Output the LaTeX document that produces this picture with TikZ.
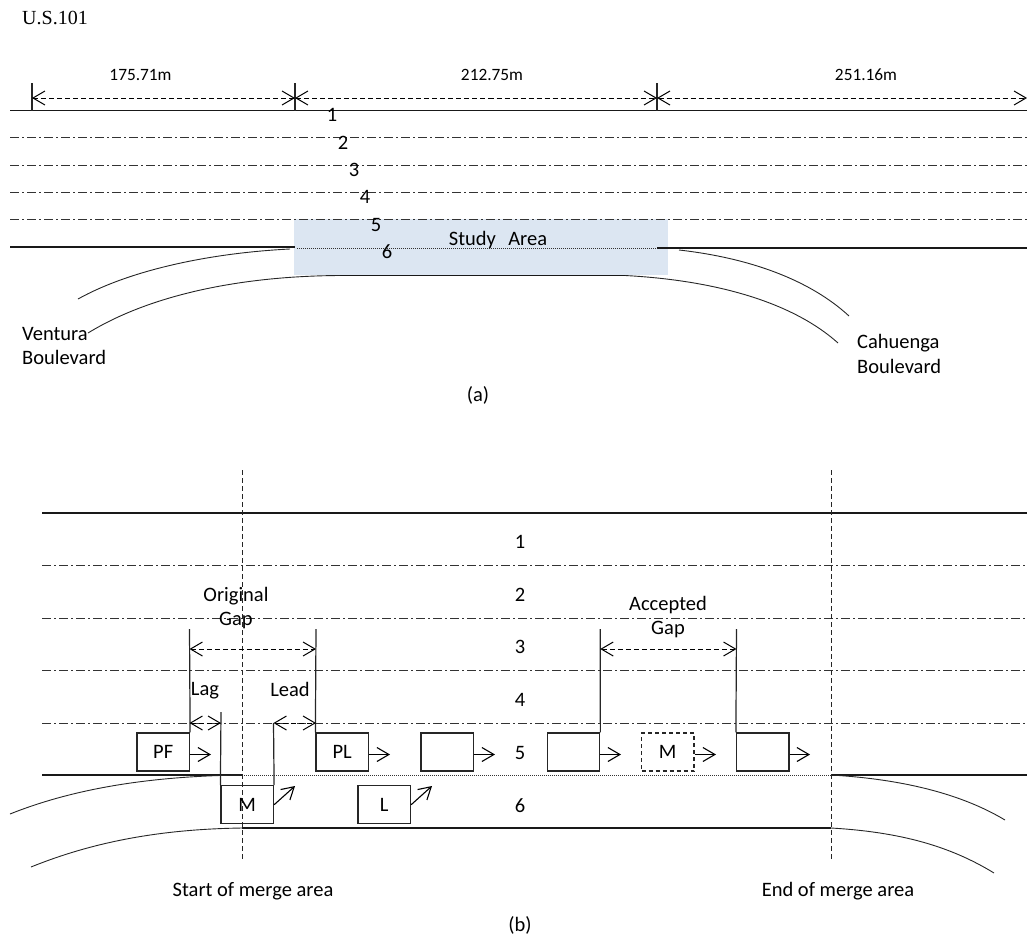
\documentclass[tikz,border=0pt]{standalone}
\usepackage{fontspec}
\setmainfont{Carlito}
\newfontfamily\roadfont{Liberation Serif}
\usetikzlibrary{arrows.meta, positioning}
\definecolor{studyblue}{HTML}{DCE6F2}

\begin{document}
\begin{tikzpicture}[
    x=1pt, y=-1pt,
    every node/.style={font=\fontsize{20.5}{24.5}\selectfont, inner sep=0pt},
    dimlabel/.style={font=\fontsize{17.3}{21}\selectfont},
    road/.style={line width=1.1pt, black!90},
    curb/.style={line width=0.9pt, black!85},
    lane/.style={line width=1pt, black!80, dash pattern=on 9pt off 3pt on 2pt off 3pt},
    merge/.style={line width=1pt, black!80, densely dotted},
    limit/.style={line width=1pt, black!85, dash pattern=on 5pt off 3pt},
    tick/.style={line width=1.2pt, black!85},
    vehicle/.style={rectangle, draw, line width=1.2pt, black!85, text=black, minimum width=52.5pt, minimum height=38pt},
    ghost/.style={vehicle, dash pattern=on 4pt off 3pt},
    move/.style={line width=1.1pt, -{Straight Barb[length=12pt, width=14pt]}},
    gap/.style={line width=1pt, dash pattern=on 5pt off 3pt, {Straight Barb[length=12pt, width=14pt]}-{Straight Barb[length=12pt, width=14pt]}}
]
\useasboundingbox (0,0) rectangle (1027,940);

% part (a)
\fill [studyblue] (294,219) rectangle (668,275);

\node (us) [font=\roadfont\fontsize{20}{24}\selectfont, anchor=west] at (22,18) {U.S.101};

\coordinate (aL) at (10,110.5);
\coordinate (aR) at (1027,110.5);
\draw [road] (aL) -- (aR);
\draw [lane] (10,137.5) -- (1027,137.5);
\draw [lane] (10,165) -- (1027,165);
\draw [lane] (10,192) -- (1027,192);
\draw [lane] (10,219.5) -- (1027,219.5);

\draw [road] (10,247) -- (295,247);
\draw [merge] (297,248) -- (775,248);
\draw [road] (657,248) -- (1027,248);
\draw [road] (330,275.5) -- (625,275.5);

\draw [curb] (78,299) .. controls (130,270) and (210,253) .. (290,249);
\draw [curb] (88,333) .. controls (150,295) and (240,276) .. (340,275.5);
\draw [curb] (679,250) .. controls (750,258) and (810,280) .. (849,316);
\draw [curb] (625,275.5) .. controls (710,280) and (790,300) .. (838,343);

\coordinate (t1) at (32,98);
\coordinate (t2) at (295,98);
\coordinate (t3) at (657,98);
\coordinate (t4) at (1027,98);
\draw [tick] (32,83) -- (32,110.5);
\draw [tick] (295,83) -- (295,110.5);
\draw [tick] (657,83) -- (657,110.5);
\draw [gap] (t1) -- node[dimlabel, above=17pt, xshift=-23pt] {175.71m} (t2);
\draw [gap] (t2) -- node[dimlabel, above=17pt, xshift=16pt] {212.75m} (t3);
\draw [gap] (t3) -- node[dimlabel, above=17pt, xshift=24pt] {251.16m} (t4);

\node (a1) at (332,115) {1};
\node (a2) at (343,142.5) {2};
\node (a3) at (354,170) {3};
\node (a4) at (365,197) {4};
\node (a5) at (376,225) {5};
\node (a6) at (387,252) {6};
\node (study) at (498,240) {Study\hspace{0.6em}Area};

\node (ventura) [align=left, anchor=west] at (22,346) {Ventura\\Boulevard};
\node (cahuenga) [align=left, anchor=west] at (857,354) {Cahuenga\\Boulevard};
\node (capa) at (478,395) {(a)};

% part (b)
\draw [road] (42,513) -- (1027,513);
\draw [lane] (42,565.5) -- (1027,565.5);
\draw [lane] (42,618) -- (1027,618);
\draw [lane] (42,670.5) -- (1027,670.5);
\draw [lane] (42,723) -- (1027,723);

\draw [road] (42,775) -- (242,775);
\draw [merge] (242,775.5) -- (831,775.5);
\draw [road] (831,775) -- (1027,775);
\draw [road] (242,828) -- (831,828);

\draw [curb] (10,814) .. controls (80,786) and (160,776) .. (242,775);
\draw [curb] (31,867) .. controls (100,839) and (170,829) .. (242,828);
\draw [curb] (831,775) .. controls (900,779) and (960,793) .. (1005,820);
\draw [curb] (831,828) .. controls (900,832) and (950,846) .. (994,873);

\draw [limit] (242,470) -- (242,859);
\draw [limit] (831,470) -- (831,859);

\node (b1) at (520,542) {1};
\node (b2) at (520,595) {2};
\node (b3) at (520,647) {3};
\node (b4) at (520,700) {4};
\node (b5) at (520,753) {5};
\node (b6) at (520,806) {6};

\node (pf) [vehicle] at (163.25,752) {PF};
\node (pl) [vehicle] at (342.25,752) {PL};
\node (car1) [vehicle] at (447.25,752) {};
\node (car2) [vehicle] at (573.5,752) {};
\node (mnew) [ghost] at (667.75,752) {M};
\node (car3) [vehicle] at (762.75,752) {};
\node (m) [vehicle] at (247.25,804.75) {M};
\node (l) [vehicle] at (384.25,804.75) {L};

\coordinate (pfgo) at (211,754.5);
\coordinate (plgo) at (390,754.5);
\coordinate (car1go) at (495,754.5);
\coordinate (car2go) at (621,754.5);
\coordinate (mnewgo) at (716,754.5);
\coordinate (car3go) at (810,754.5);
\coordinate (mgo) at (295,786);
\coordinate (lgo) at (432,786);
\draw [move] (pf.east |- pfgo) -- (pfgo);
\draw [move] (pl.east |- plgo) -- (plgo);
\draw [move] (car1.east |- car1go) -- (car1go);
\draw [move] (car2.east |- car2go) -- (car2go);
\draw [move] (mnew.east |- mnewgo) -- (mnewgo);
\draw [move] (car3.east |- car3go) -- (car3go);
\draw [move] (m.east) -- (mgo);
\draw [move] (l.east) -- (lgo);

\coordinate (pftop) at (189.5,629);
\coordinate (pltop) at (316,629);
\coordinate (car2top) at (600.25,629);
\coordinate (car3top) at (736.5,629);
\coordinate (mltop) at (221,712);
\coordinate (mrtop) at (273.5,723);
\draw [tick] (pftop) -- (pf.north east);
\draw [tick] (pltop) -- (pl.north west);
\draw [tick] (car2top) -- (car2.north east);
\draw [tick] (car3top) -- (car3.north west);
\draw [tick] (mltop) -- (m.north west);
\draw [tick] (mrtop) -- (m.north east);

\coordinate (ogL) at (189.5,649);
\coordinate (ogR) at (316,649);
\coordinate (agL) at (600.25,649);
\coordinate (agR) at (736.5,649);
\coordinate (lagL) at (189.5,723);
\coordinate (lagR) at (221,723);
\coordinate (leadL) at (273.5,723);
\coordinate (leadR) at (316,723);
\draw [gap] (ogL) -- (ogR);
\draw [gap] (agL) -- (agR);
\draw [gap] (lagL) -- (lagR);
\draw [gap] (leadL) -- (leadR);

\node (original) [align=center] at (236,608) {Original\\Gap};
\node (accepted) [align=center] at (668,617) {Accepted\\Gap};
\node (lag) at (205,691) {Lag};
\node (lead) at (290,689) {Lead};

\node (start) at (253,891) {Start of merge area};
\node (end) at (838,891) {End of merge area};
\node (capb) at (520,925) {(b)};

\end{tikzpicture}
\end{document}
